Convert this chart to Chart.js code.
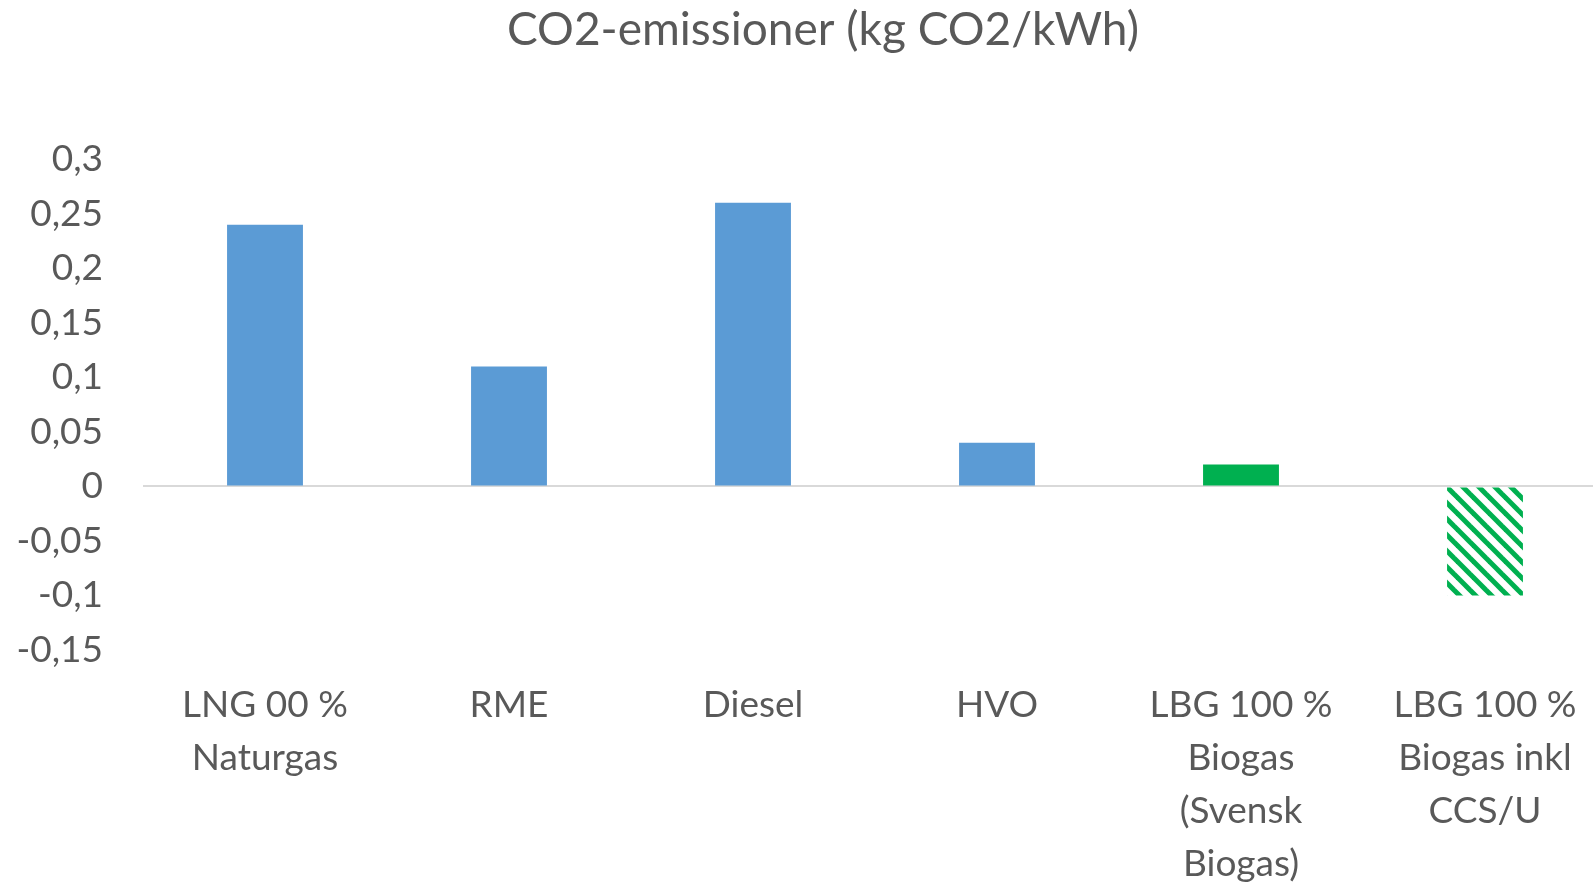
<!DOCTYPE html>
<html>
<head>
<meta charset="utf-8">
<script src="https://cdn.jsdelivr.net/npm/chart.js@4"></script>
<style>
  html, body { margin: 0; padding: 0; background: #ffffff; overflow: hidden; width: 1593px; height: 882px; }
  canvas { display: block; }
</style>
</head>
<body>
<canvas id="c" width="1646" height="882"></canvas>
<script>
const chartTitle = "CO2-emissioner (kg CO2/kWh)";
const categories = [
  ["LNG 00 %", "Naturgas"],
  ["RME"],
  ["Diesel"],
  ["HVO"],
  ["LBG 100 %", "Biogas", "(Svensk", "Biogas)"],
  ["LBG 100 %", "Biogas inkl", "CCS/U"]
];
const emissions = [0.24, 0.11, 0.26, 0.04, 0.02, -0.1];
const yMin = -0.15, yMax = 0.3, yStep = 0.05;

const FONT = "Lato, 'Open Sans', sans-serif";
const TEXT = "#595959";
const BLUE = "#5B9BD5";
const GREEN = "#00B050";

function makeHatch() {
  const s = 16;
  const p = document.createElement("canvas");
  p.width = s; p.height = s;
  const g = p.getContext("2d");
  g.fillStyle = "#ffffff";
  g.fillRect(0, 0, s, s);
  g.strokeStyle = GREEN;
  g.lineWidth = 5;
  g.lineCap = "square";
  for (let k = -1; k <= 1; k++) {
    g.beginPath();
    g.moveTo(k * s - 2, -2);
    g.lineTo(k * s + s + 2, s + 2);
    g.stroke();
  }
  return document.getElementById("c").getContext("2d").createPattern(p, "repeat");
}
const hatch = makeHatch();
const barColors = [BLUE, BLUE, BLUE, BLUE, GREEN, hatch];

new Chart(document.getElementById("c"), {
  type: "bar",
  data: {
    labels: categories,
    datasets: [{
      data: emissions,
      backgroundColor: barColors,
      borderWidth: 0,
      barPercentage: 0.311,
      categoryPercentage: 1.0
    }]
  },
  options: {
    responsive: false,
    animation: false,
    devicePixelRatio: 1,
    layout: { padding: 0 },
    plugins: {
      legend: { display: false },
      tooltip: { enabled: false },
      title: {
        display: true,
        text: chartTitle,
        color: TEXT,
        font: { family: FONT, size: 46, weight: "normal", lineHeight: 1.2 },
        padding: { top: 3, bottom: 101 }
      }
    },
    scales: {
      x: {
        grid: { display: false, drawTicks: false },
        border: { display: false },
        ticks: {
          color: TEXT,
          font: { family: FONT, size: 37, lineHeight: 1.427 },
          padding: 29,
          maxRotation: 0,
          minRotation: 0,
          autoSkip: false
        },
        afterFit(scale) { scale.height = 232; }
      },
      y: {
        min: yMin,
        max: yMax,
        border: { display: false },
        grid: {
          drawTicks: false,
          lineWidth: 2,
          color: ctx => (ctx.tick && Math.abs(ctx.tick.value) < 1e-9) ? "#D9D9D9" : "rgba(0,0,0,0)"
        },
        ticks: {
          stepSize: yStep,
          color: TEXT,
          font: { family: FONT, size: 37 },
          padding: 40,
          callback: v => String(Number(v.toFixed(2))).replace(".", ",")
        },
        afterFit(scale) { scale.width = 143; }
      },
      yRight: {
        position: "right",
        min: yMin,
        max: yMax,
        border: { display: false },
        grid: { display: false, drawTicks: false },
        ticks: { display: false },
        afterFit(scale) { scale.width = 39; }
      }
    }
  }
});
</script>
</body>
</html>
